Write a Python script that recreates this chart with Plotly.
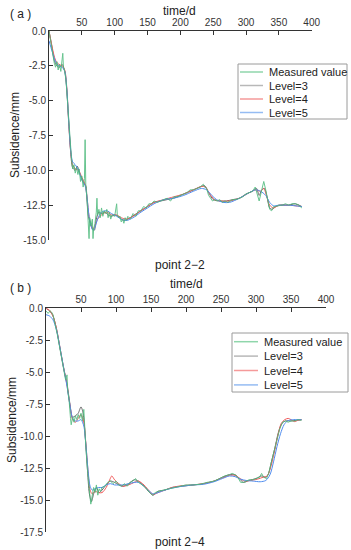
import plotly.graph_objects as go

W, H = 351, 550

# ---------------- data: panel (a) point 2-2 ----------------
a_meas_t = [0, 2, 4, 6, 8, 10, 12, 14, 16, 18, 20, 21, 22, 24, 26, 28, 30, 32, 34, 36, 38, 40, 42, 44, 46, 48, 50,
            52, 54, 55, 56, 58, 60, 61, 62, 64, 66, 67, 68, 70, 72, 73, 74, 76, 78, 80, 82, 84, 86, 88, 90, 92, 94,
            96, 100, 102, 103, 104, 106, 108, 110, 112, 114, 116, 118, 120, 124, 128, 132, 136, 140, 144, 148, 152,
            156, 160, 165, 170, 175, 180, 185, 190, 195, 200, 205, 210, 215, 220, 225, 230, 235, 237, 240, 243, 246,
            249, 252, 256, 260, 264, 268, 272, 276, 280, 285, 290, 295, 300, 305, 310, 314, 317, 320, 323, 327, 330,
            333, 336, 339, 342, 345, 350, 355, 360, 365, 370, 375, 380, 385]
a_meas_v = [0.0, -0.6, -1.2, -1.9, -2.3, -2.6, -2.2, -2.8, -2.4, -2.9, -2.2, -1.6, -2.6, -2.9, -3.6, -5.0, -6.8, -8.2,
            -9.0, -9.9, -9.6, -10.2, -9.8, -10.3, -9.9, -10.8, -10.4, -11.2, -10.6, -7.8, -11.0, -12.2, -13.6, -14.9,
            -13.4, -14.0, -13.5, -14.9, -14.2, -13.8, -13.0, -12.0, -13.2, -12.8, -13.4, -12.7, -13.3, -12.9, -13.1,
            -12.8, -13.4, -13.0, -13.5, -13.2, -13.3, -12.7, -12.4, -13.2, -13.4, -13.3, -13.7, -13.5, -13.8, -13.4,
            -13.6, -13.3, -13.5, -13.1, -13.3, -12.9, -12.9, -12.6, -12.7, -12.4, -12.4, -12.2, -12.3, -12.2, -12.1,
            -12.0, -12.2, -11.9, -11.9, -11.8, -11.7, -11.6, -11.4, -11.4, -11.3, -11.2, -11.0, -11.2, -11.3, -11.8,
            -12.0, -12.2, -12.1, -12.2, -12.1, -12.3, -12.2, -12.3, -12.2, -12.1, -12.1, -12.0, -11.9, -11.7, -11.6,
            -11.5, -11.2, -11.8, -12.2, -11.6, -10.8, -11.4, -12.2, -12.8, -12.9, -12.6, -12.6, -12.5, -12.5, -12.4,
            -12.5, -12.4, -12.4, -12.5, -12.7]

a_l3_t = [0, 4, 8, 12, 16, 20, 24, 27, 30, 33, 36, 40, 43, 46, 50, 53, 56, 58, 60, 63, 66, 69, 72, 76, 80, 85, 90, 95,
          100, 105, 110, 115, 120, 130, 140, 150, 160, 170, 180, 190, 200, 210, 220, 230, 237, 243, 250, 260, 270,
          280, 290, 300, 310, 316, 320, 324, 328, 332, 336, 340, 345, 355, 365, 375, 385]
a_l3_v = [0.0, -1.0, -2.1, -2.5, -2.6, -2.4, -2.9, -4.2, -6.6, -8.7, -9.8, -10.0, -9.7, -10.1, -10.6, -10.9, -11.1,
          -12.2, -13.3, -13.8, -14.2, -14.3, -13.5, -13.0, -13.1, -13.0, -13.2, -13.3, -13.2, -13.3, -13.5, -13.6,
          -13.5, -13.2, -12.9, -12.6, -12.3, -12.2, -12.1, -12.0, -11.8, -11.6, -11.4, -11.2, -11.1, -11.6, -12.1,
          -12.2, -12.2, -12.1, -12.0, -11.7, -11.5, -11.3, -11.8, -11.4, -11.3, -11.9, -12.7, -12.8, -12.6, -12.5,
          -12.5, -12.4, -12.6]

a_l4_t = [0, 5, 10, 15, 20, 24, 27, 30, 33, 36, 40, 45, 50, 55, 58, 61, 64, 67, 70, 74, 80, 88, 95, 103, 110, 118,
          128, 140, 150, 160, 175, 190, 205, 220, 232, 238, 245, 252, 262, 275, 290, 305, 315, 322, 327, 331, 336,
          342, 350, 365, 385]
a_l4_v = [0.0, -1.2, -2.1, -2.4, -2.5, -2.8, -4.0, -6.5, -8.6, -9.6, -9.9, -10.0, -10.5, -11.0, -12.0, -13.3, -13.9,
          -14.2, -14.0, -13.5, -13.2, -13.0, -13.2, -13.2, -13.4, -13.5, -13.3, -12.9, -12.6, -12.3, -12.1, -11.9,
          -11.7, -11.4, -11.15, -11.2, -11.7, -12.1, -12.2, -12.2, -12.0, -11.6, -11.4, -11.5, -11.3, -11.8, -12.5,
          -12.7, -12.5, -12.5, -12.6]

a_l5_t = [0, 5, 10, 15, 20, 24, 27, 30, 33, 36, 40, 45, 50, 55, 58, 61, 64, 67, 70, 74, 80, 88, 95, 103, 110, 118,
          128, 140, 150, 160, 175, 190, 205, 220, 232, 240, 248, 255, 265, 275, 290, 305, 315, 322, 330, 336, 342,
          350, 365, 385]
a_l5_v = [-0.7, -1.5, -2.2, -2.5, -2.6, -2.9, -4.1, -6.4, -8.5, -9.4, -9.6, -10.0, -10.7, -11.1, -12.0, -13.3, -14.0,
          -14.3, -14.1, -13.5, -13.0, -12.9, -13.1, -13.3, -13.5, -13.6, -13.4, -13.0, -12.7, -12.4, -12.1, -12.0,
          -11.8, -11.5, -11.3, -11.4, -11.8, -12.1, -12.3, -12.3, -12.0, -11.6, -11.4, -11.5, -11.8, -12.3, -12.55,
          -12.5, -12.5, -12.6]

# ---------------- data: panel (b) point 2-4 ----------------
b_meas_t = [0, 3, 6, 8, 10, 13, 16, 19, 22, 25, 28, 30, 31, 33, 35, 36, 38, 40, 42, 44, 46, 48, 50, 52, 54, 55, 57,
            59, 61, 63, 64, 66, 68, 70, 72, 74, 76, 78, 80, 84, 88, 92, 96, 100, 104, 108, 112, 116, 120, 124, 128,
            130, 133, 136, 140, 144, 148, 152, 156, 160, 168, 176, 184, 192, 200, 210, 220, 230, 240, 248, 255, 262,
            266, 270, 274, 278, 282, 286, 290, 295, 300, 305, 308, 311, 315, 318, 322, 326, 330, 334, 338, 342, 346,
            350, 355, 360, 365]
b_meas_v = [-0.2, -0.4, -0.2, -0.3, -0.5, -1.2, -2.0, -2.9, -3.7, -4.7, -5.6, -5.2, -6.4, -7.2, -8.6, -9.1, -8.5,
            -8.9, -8.4, -8.7, -8.3, -8.6, -8.2, -8.8, -7.9, -9.4, -10.9, -12.5, -14.0, -14.8, -15.3, -14.6, -14.0,
            -14.4, -13.8, -14.6, -14.1, -14.3, -14.0, -13.9, -13.6, -13.5, -13.7, -13.5, -13.8, -13.9, -13.7, -13.9,
            -13.6, -13.5, -13.3, -13.5, -13.6, -13.7, -13.9, -14.1, -14.4, -14.6, -14.4, -14.3, -14.2, -14.1, -14.0,
            -13.9, -13.8, -13.8, -13.75, -13.6, -13.5, -13.3, -13.1, -13.0, -12.9, -13.0, -13.2, -13.6, -13.6, -13.5,
            -13.4, -13.4, -13.3, -13.2, -12.9, -13.2, -13.3, -12.9, -12.0, -11.2, -10.3, -9.4, -8.9, -8.8, -8.9,
            -8.8, -8.8, -8.7, -8.75]

b_l3_t = [0, 5, 10, 15, 20, 25, 30, 34, 38, 42, 46, 50, 53, 56, 59, 62, 65, 68, 72, 76, 80, 86, 92, 98, 104, 110,
          118, 126, 132, 140, 148, 153, 160, 170, 180, 195, 210, 225, 240, 252, 262, 270, 276, 282, 290, 300, 308,
          314, 318, 322, 327, 332, 337, 342, 350, 358, 365]
b_l3_v = [0.0, -0.2, -0.6, -1.6, -3.1, -4.6, -5.9, -7.4, -8.5, -8.4, -8.2, -7.7, -8.2, -10.0, -12.4, -14.5, -15.1,
          -14.5, -14.0, -14.4, -14.2, -13.8, -13.5, -13.6, -13.8, -13.9, -13.7, -13.4, -13.5, -13.9, -14.4, -14.6,
          -14.3, -14.2, -14.0, -13.9, -13.8, -13.7, -13.5, -13.2, -13.0, -13.0, -13.3, -13.6, -13.45, -13.3, -13.1,
          -13.2, -12.9, -12.0, -10.9, -9.7, -9.0, -8.8, -8.8, -8.75, -8.7]

b_l4_t = [0, 5, 10, 15, 20, 25, 30, 34, 38, 42, 46, 50, 54, 57, 60, 63, 66, 70, 75, 80, 86, 91, 94, 98, 104, 110,
          118, 126, 132, 140, 148, 153, 160, 170, 180, 195, 210, 225, 240, 252, 262, 270, 276, 284, 292, 302, 310,
          316, 321, 326, 331, 336, 341, 346, 350, 355, 360, 365]
b_l4_v = [0.0, -0.15, -0.6, -1.6, -3.1, -4.6, -6.0, -7.5, -8.7, -8.9, -8.6, -8.3, -8.9, -10.6, -12.7, -14.2, -14.5,
          -14.3, -14.4, -14.4, -14.0, -13.4, -13.1, -13.4, -13.7, -13.9, -13.8, -13.6, -13.5, -13.8, -14.3, -14.55,
          -14.4, -14.2, -14.0, -13.85, -13.8, -13.7, -13.5, -13.25, -13.05, -13.05, -13.25, -13.5, -13.45, -13.35,
          -13.2, -13.1, -12.4, -11.3, -10.0, -9.0, -8.7, -8.6, -8.7, -8.85, -8.75, -8.7]

b_l5_t = [0, 5, 10, 15, 20, 25, 30, 34, 38, 42, 46, 50, 54, 57, 60, 63, 66, 70, 75, 80, 86, 92, 98, 104, 110, 118,
          126, 132, 140, 148, 153, 160, 170, 180, 195, 210, 225, 240, 252, 262, 270, 278, 286, 296, 306, 314, 320,
          325, 330, 335, 340, 345, 352, 360, 365]
b_l5_v = [-0.5, -0.6, -0.9, -1.7, -3.1, -4.6, -6.1, -7.5, -8.6, -8.8, -8.8, -8.7, -9.2, -10.7, -12.6, -13.9, -14.2,
          -14.1, -14.0, -14.0, -13.8, -13.7, -13.8, -13.8, -13.8, -13.7, -13.6, -13.6, -13.9, -14.3, -14.5, -14.4,
          -14.2, -14.05, -13.9, -13.8, -13.75, -13.55, -13.3, -13.1, -13.15, -13.35, -13.45, -13.5, -13.55, -13.45,
          -13.0, -12.0, -10.8, -9.8, -9.1, -8.8, -8.7, -8.7, -8.7]

# ---------------- labels / ticks ----------------
series_names = ["Measured value", "Level=3", "Level=4", "Level=5"]
x_tick_vals = [50, 100, 150, 200, 250, 300, 350, 400]
a_y_tick_vals = [0, -2.5, -5, -7.5, -10, -12.5, -15]
a_y_tick_text = ["0.0", "-2.5", "-5.0", "-7.5", "-10.0", "-12.5", "-15.0"]
b_y_tick_vals = [0, -2.5, -5, -7.5, -10, -12.5, -15, -17.5]
b_y_tick_text = ["0.0", "-2.5", "-5.0", "-7.5", "-10.0", "-12.5", "-15.0", "-17.5"]

C_MEAS = "#4cba7b"
C_L3 = "#666666"
C_L4 = "#f05a5a"
C_L5 = "#4f8cee"
colors = [C_MEAS, C_L3, C_L4, C_L5]
LEG_COLORS = ["#8fd6ab", "#b8b8b8", "#f59a9a", "#95bcf3"]

FONT = "Liberation Sans, Arial, sans-serif"


def px_x(p):
    return p / W


def px_y(p):
    return 1 - p / H


fig = go.Figure()


def add_panel(xa, ya, meas, l3, l4, l5):
    for (t, v), c, nm in zip([l3, l4, l5], [C_L3, C_L4, C_L5], series_names[1:]):
        fig.add_trace(go.Scatter(x=t, y=v, mode="lines", name=nm, xaxis=xa, yaxis=ya,
                                 line=dict(color=c, width=1, shape="spline", smoothing=0.8),
                                 showlegend=False))
    fig.add_trace(go.Scatter(x=meas[0], y=meas[1], mode="lines", name=series_names[0], xaxis=xa, yaxis=ya,
                             line=dict(color=C_MEAS, width=1), opacity=0.85, showlegend=False))


add_panel("x", "y", (a_meas_t, a_meas_v), (a_l3_t, a_l3_v), (a_l4_t, a_l4_v), (a_l5_t, a_l5_v))
add_panel("x2", "y2", (b_meas_t, b_meas_v), (b_l3_t, b_l3_v), (b_l4_t, b_l4_v), (b_l5_t, b_l5_v))

axis_common = dict(showline=True, linecolor="#333333", linewidth=1, ticks="inside", ticklen=4,
                   tickcolor="#333333", showgrid=False, zeroline=False, automargin=False,
                   tickfont=dict(family=FONT, size=10, color="#333333"))

fig.update_layout(
    width=W, height=H,
    margin=dict(l=0, r=0, t=0, b=0, autoexpand=False),
    paper_bgcolor="white", plot_bgcolor="white",
    showlegend=False,
    xaxis=dict(domain=[px_x(49), px_x(311.7)], range=[0, 400], side="top", anchor="y",
               tickvals=x_tick_vals, **axis_common),
    yaxis=dict(domain=[px_y(240), px_y(31)], range=[-15, 0], anchor="x",
               tickvals=a_y_tick_vals, ticktext=a_y_tick_text, **axis_common),
    xaxis2=dict(domain=[px_x(46), px_x(326)], range=[0, 400], side="top", anchor="y2",
                tickvals=x_tick_vals, **axis_common),
    yaxis2=dict(domain=[px_y(532.3), px_y(308.3)], range=[-17.5, 0], anchor="x2",
                tickvals=b_y_tick_vals, ticktext=b_y_tick_text, **axis_common),
)

annos = []
shapes = []


def text(x, y, s, size=12, angle=0, xanchor="center"):
    annos.append(dict(x=px_x(x), y=px_y(y), xref="paper", yref="paper", text=s, showarrow=False,
                      xanchor=xanchor, yanchor="middle", textangle=angle,
                      font=dict(family=FONT, size=size, color="#222222")))


# panel labels and titles
text(8, 14, "( a )", 12, xanchor="left")
text(180, 11, "time/d", 12)
text(15, 135, "Subsidence/mm", 12, angle=-90)
text(180, 265, "point 2\u22122", 12)

text(8, 288, "( b )", 12, xanchor="left")
text(186, 284, "time/d", 12)
text(12, 420, "Subsidence/mm", 12, angle=-90)
text(180, 542, "point 2\u22124", 12)


def legend(left, top, right, bottom, first_y, step, line_x0, line_x1, text_x):
    shapes.append(dict(type="rect", xref="paper", yref="paper", x0=px_x(left), x1=px_x(right),
                       y0=px_y(bottom), y1=px_y(top), line=dict(color="#9a9a9a", width=1),
                       fillcolor="white", layer="above"))
    for i, (nm, c) in enumerate(zip(series_names, LEG_COLORS)):
        yy = first_y + i * step
        shapes.append(dict(type="line", xref="paper", yref="paper", x0=px_x(line_x0), x1=px_x(line_x1),
                           y0=px_y(yy), y1=px_y(yy), line=dict(color=c, width=1.5), layer="above"))
        text(text_x, yy, nm, 11, xanchor="left")


legend(238, 64, 347, 119, 72, 13.5, 240, 263, 267)
legend(232, 333, 348, 392, 341.7, 14.4, 234, 258, 262)

fig.update_layout(annotations=annos, shapes=shapes)

fig.write_html("out.html", config={"displayModeBar": False},
               post_script="document.body.style.margin='0px';document.body.style.overflow='hidden';")
